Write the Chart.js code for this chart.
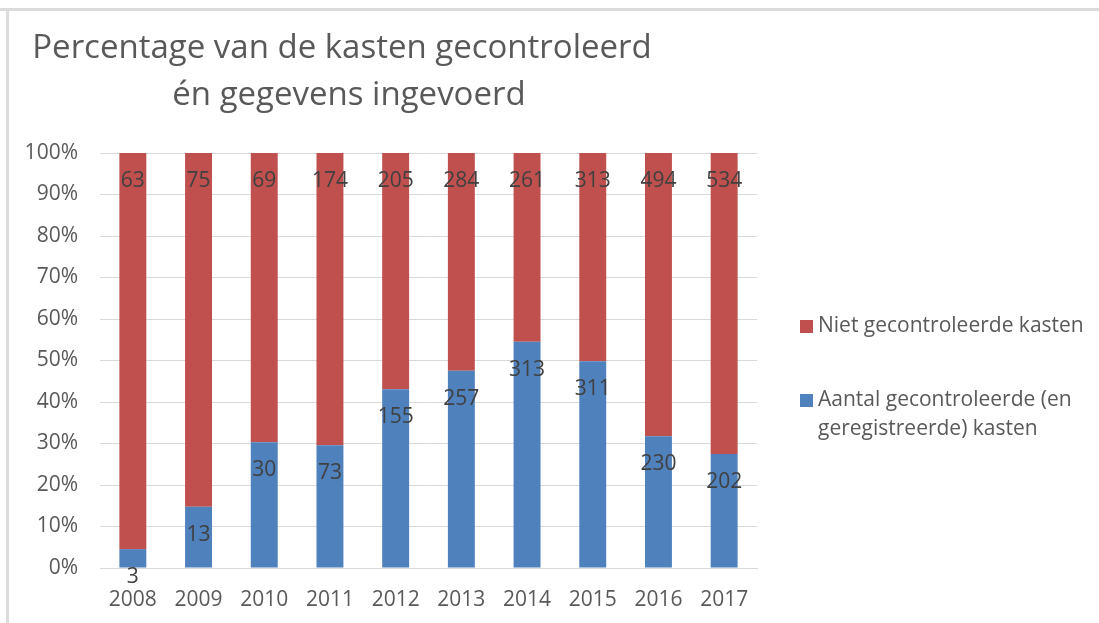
<!DOCTYPE html>
<html>
<head>
<meta charset="utf-8">
<script src="https://cdn.jsdelivr.net/npm/chart.js@4/dist/chart.umd.min.js"></script>
<style>
  html, body { margin: 0; padding: 0; background: #fff; }
  #wrap { width: 1099px; height: 623px; position: relative; }
</style>
</head>
<body>
<div id="wrap"><canvas id="chart"></canvas></div>
<script>
// Data
const years = ['2008', '2009', '2010', '2011', '2012', '2013', '2014', '2015', '2016', '2017'];
const controlled = [3, 13, 30, 73, 155, 257, 313, 311, 230, 202];
const notControlled = [63, 75, 69, 174, 205, 284, 261, 313, 494, 534];
const titleLines = ['Percentage van de kasten gecontroleerd', 'én gegevens ingevoerd'];
const labelControlled = 'Aantal gecontroleerde (en geregistreerde) kasten';
const labelNotControlled = 'Niet gecontroleerde kasten';

const FONT = '"Open Sans", "Liberation Sans", sans-serif';

// 100% stacked: share of each year's total
const share = (part, other) => part.map((v, i) => v / (v + other[i]) * 100);

/**
 * Page frame, title, value labels and the legend.
 */
const decor = {
  'id': 'decor',
  'beforeDraw': (chart) => {
    let ctx = chart.ctx;
    ctx.save();
    ctx.fillStyle = '#ffffff';
    ctx.fillRect(0, 0, chart.width, chart.height);
    ctx.fillStyle = '#dcdcdc';
    ctx.fillRect(0, 8, chart.width, 3);
    ctx.fillRect(6, 8, 3, chart.height - 8);
    ctx.restore();
  },
  'afterDraw': (chart) => {
    let ctx = chart.ctx;
    ctx.save();

    // title
    ctx.fillStyle = '#595959';
    ctx.font = '33px ' + FONT;
    ctx.textAlign = 'center';
    ctx.textBaseline = 'alphabetic';
    ctx.fillText(titleLines[0], 342, 58);
    ctx.fillText(titleLines[1], 349, 105);

    // value labels just inside the top of each segment
    ctx.font = '21px ' + FONT;
    ctx.fillStyle = '#404040';
    ctx.textBaseline = 'middle';
    chart.data.datasets.forEach((ds, di) => {
      chart.getDatasetMeta(di).data.forEach((bar, i) => {
        ctx.fillText(String(ds.raw[i]), bar.x, bar.y + 28);
      });
    });

    // legend (reverse order, like the reference)
    ctx.textAlign = 'left';
    let items = [
      {'color': chart.data.datasets[1].backgroundColor, 'lines': [labelNotControlled], 'y': 326},
      {'color': chart.data.datasets[0].backgroundColor, 'lines': ['Aantal gecontroleerde (en', 'geregistreerde) kasten'], 'y': 400}
    ];
    items.forEach((it) => {
      ctx.fillStyle = it.color;
      ctx.fillRect(800, it.y - 6, 13, 13);
      ctx.fillStyle = '#595959';
      it.lines.forEach((line, k) => {
        ctx.fillText(line, 818, it.y + k * 29);
      });
    });
    ctx.restore();
  }
};

new Chart(document.getElementById('chart'), {
  'type': 'bar',
  'data': {
    'labels': years,
    'datasets': [
      {
        'label': labelControlled,
        'data': share(controlled, notControlled),
        'raw': controlled,
        'backgroundColor': '#4f81bd'
      },
      {
        'label': labelNotControlled,
        'data': share(notControlled, controlled),
        'raw': notControlled,
        'backgroundColor': '#c0504d'
      }
    ]
  },
  'options': {
    'responsive': true,
    'maintainAspectRatio': false,
    'animation': false,
    'layout': {
      'padding': {'top': 153, 'right': 342, 'bottom': 8, 'left': 10}
    },
    'datasets': {
      'bar': {'barPercentage': 0.41, 'categoryPercentage': 1.0}
    },
    'plugins': {
      'legend': {'display': false},
      'title': {'display': false},
      'tooltip': {'enabled': false}
    },
    'scales': {
      'x': {
        'stacked': true,
        'grid': {'display': false, 'drawTicks': false},
        'border': {'display': true, 'color': '#d9d9d9'},
        'ticks': {'color': '#595959', 'font': {'family': FONT, 'size': 21}, 'padding': 19},
        'afterFit': (s) => { s.height = 47; }
      },
      'y': {
        'stacked': true,
        'min': 0,
        'max': 100,
        'grid': {'color': '#d9d9d9', 'drawTicks': false},
        'border': {'display': false},
        'ticks': {
          'stepSize': 10,
          'color': '#595959',
          'font': {'family': FONT, 'size': 21},
          'padding': 22,
          'callback': (v) => v + '%'
        },
        'afterFit': (s) => { s.width = 90; }
      }
    }
  },
  'plugins': [decor]
});
</script>
</body>
</html>
